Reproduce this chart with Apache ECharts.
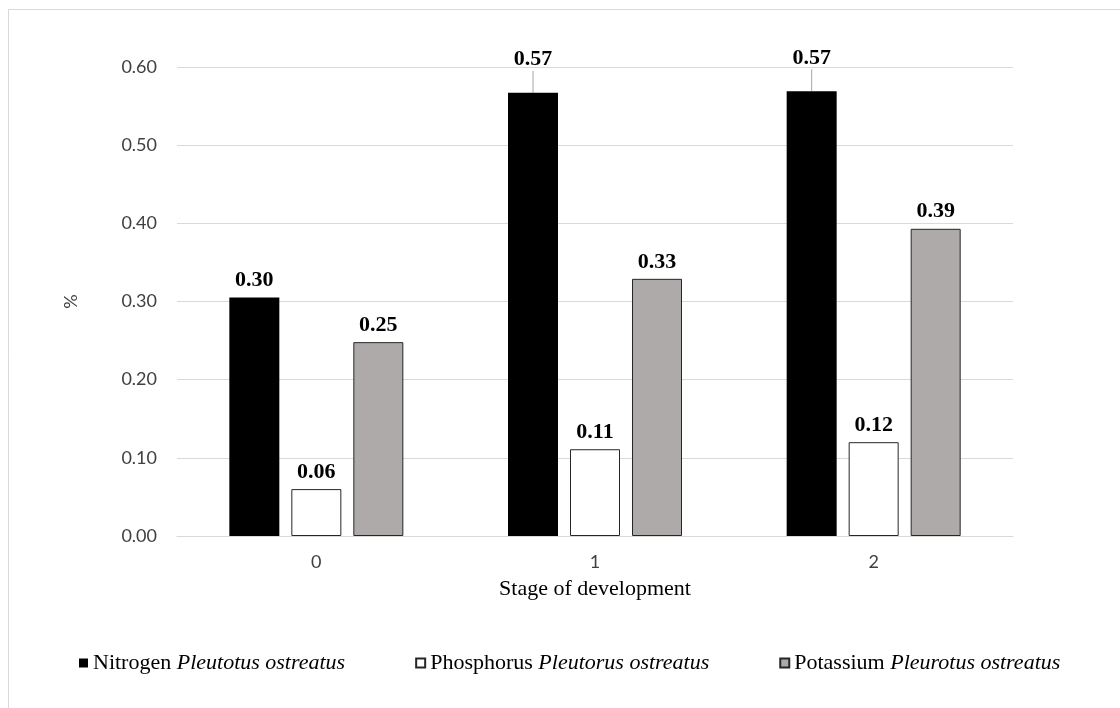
<!DOCTYPE html>
<html>
<head>
<meta charset="utf-8">
<script src="https://cdn.jsdelivr.net/npm/echarts@6/dist/echarts.min.js"></script>
<style>
html,body{margin:0;padding:0;background:#fff;}
#c{width:1120px;height:708px;}
</style>
</head>
<body>
<div id="c"></div>
<script>
const categories = ['0', '1', '2'];
const nitrogen = [0.305, 0.567, 0.569];
const phosphorus = [0.060, 0.111, 0.120];
const potassium = [0.248, 0.329, 0.393];
const seriesNames = ['Nitrogen Pleutotus ostreatus', 'Phosphorus Pleutorus ostreatus', 'Potassium Pleurotus ostreatus'];
const legendParts = {
  'Nitrogen Pleutotus ostreatus': ['Nitrogen', 'Pleutotus ostreatus'],
  'Phosphorus Pleutorus ostreatus': ['Phosphorus', 'Pleutorus ostreatus'],
  'Potassium Pleurotus ostreatus': ['Potassium', 'Pleurotus ostreatus']
};
const yTicks = { min: 0, max: 0.6, interval: 0.1 };
const liftedNitrogen = [1, 2];

const chart = echarts.init(document.getElementById('c'), null, {renderer: 'canvas'});

const labelCfg = {
  show: true,
  position: 'top',
  distance: 6,
  fontFamily: 'Liberation Serif',
  fontWeight: 'bold',
  fontSize: 22,
  color: '#000',
  formatter: p => p.value.toFixed(2)
};

function mkSeries(name, data, color, border, liftIdx) {
  const items = data.map((v, i) => ({
    value: v,
    labelLine: {show: !!(liftIdx && liftIdx.indexOf(i) >= 0), lineStyle: {color: '#a6a6a6', width: 1}}
  }));
  return {
    name: name,
    type: 'bar',
    data: items,
    barWidth: 50,
    barGap: '24%',
    itemStyle: {color: color, borderColor: border || color, borderWidth: border ? 1 : 0},
    label: labelCfg,
    labelLayout: liftIdx ? function (p) { return liftIdx.indexOf(p.dataIndex) >= 0 ? {dy: -16} : {}; } : undefined,
    emphasis: {disabled: true}
  };
}

chart.setOption({
  animation: false,
  backgroundColor: '#fff',
  graphic: [{
    type: 'rect',
    shape: {x: 8.5, y: 9.5, width: 1300, height: 900},
    style: {fill: 'none', stroke: '#d9d9d9', lineWidth: 1},
    silent: true
  }],
  grid: {left: 177, right: 107, top: 67, bottom: 172, containLabel: false},
  legend: {
    left: 74,
    top: 647,
    itemWidth: 9,
    itemHeight: 9,
    itemGap: 70,
    icon: 'rect',
    data: seriesNames,
    formatter: n => '{a|' + legendParts[n][0] + '} {b|' + legendParts[n][1] + '}',
    textStyle: {
      fontFamily: 'Liberation Serif',
      fontSize: 22,
      color: '#000',
      rich: {
        a: {fontFamily: 'Liberation Serif', fontSize: 22, color: '#000'},
        b: {fontFamily: 'Liberation Serif', fontSize: 22, fontStyle: 'italic', color: '#000'}
      }
    }
  },
  xAxis: {
    type: 'category',
    data: categories,
    name: 'Stage of development',
    nameLocation: 'middle',
    nameGap: 42,
    nameTextStyle: {fontFamily: 'Liberation Serif', fontSize: 22, color: '#000'},
    axisLine: {lineStyle: {color: '#d9d9d9', width: 1}},
    axisTick: {show: false},
    axisLabel: {fontFamily: 'Lato', fontSize: 18, color: '#404040', margin: 17}
  },
  yAxis: {
    type: 'value',
    min: yTicks.min,
    max: yTicks.max,
    interval: yTicks.interval,
    name: '%',
    nameLocation: 'middle',
    nameRotate: 90,
    nameGap: 97,
    nameTextStyle: {fontFamily: 'Lato', fontSize: 18, color: '#404040'},
    axisLine: {show: false},
    axisTick: {show: false},
    splitLine: {lineStyle: {color: '#d9d9d9', width: 1}},
    axisLabel: {fontFamily: 'Lato', fontSize: 18, color: '#404040', margin: 20, formatter: v => v.toFixed(2)}
  },
  series: [
    mkSeries(seriesNames[0], nitrogen, '#000000', null, liftedNitrogen),
    mkSeries(seriesNames[1], phosphorus, '#ffffff', '#262626'),
    mkSeries(seriesNames[2], potassium, '#aeaaaa', '#262626')
  ]
});
</script>
</body>
</html>
